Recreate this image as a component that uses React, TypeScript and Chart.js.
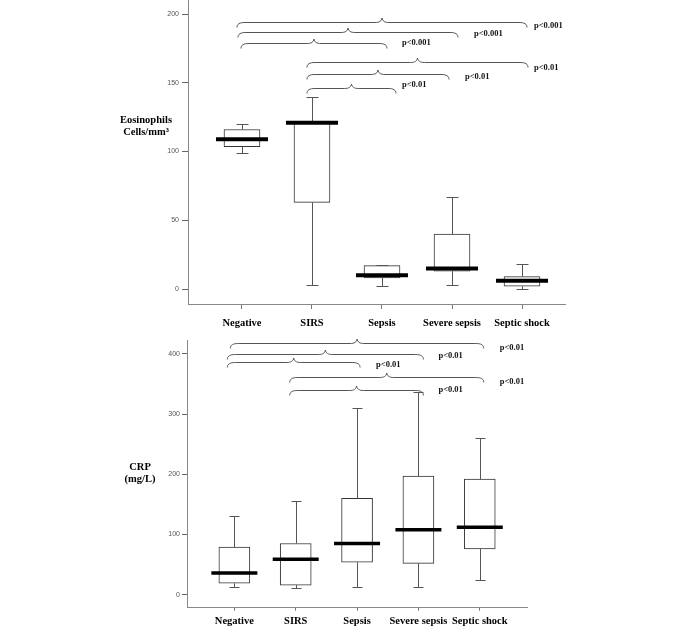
import React, { useEffect, useRef } from 'react';
import { Chart, registerables } from 'chart.js';

Chart.register(...registerables);

const categories = ['Negative', 'SIRS', 'Sepsis', 'Severe sepsis', 'Septic shock'];

// Eosinophils (cells/mm³)
const eosMin = [99, 3, 2, 3, 0];
const eosQ1 = [103.5, 63, 8, 13, 2];
const eosMedian = [109, 121, 10, 15, 6];
const eosQ3 = [116, 121, 17, 40, 9];
const eosMax = [120, 140, 17.5, 67, 18];
const eosTicks = [0, 50, 100, 150, 200];
const eosPairs = [[0, 4], [0, 3], [0, 2], [1, 4], [1, 3], [1, 2]];
const eosBraceLevel = [194.4, 186.7, 178.9, 165, 156.4, 146.2];
const eosPValues = ['p<0.001', 'p<0.001', 'p<0.001', 'p<0.01', 'p<0.01', 'p<0.01'];

// CRP (mg/L)
const crpMin = [12, 11, 12, 13, 24];
const crpQ1 = [19, 16, 54, 52, 76];
const crpMedian = [36, 59, 85, 108, 112];
const crpQ3 = [79, 85, 160, 197, 192];
const crpMax = [130, 155, 310, 336, 261];
const crpTicks = [0, 100, 200, 300, 400];
const crpPairs = [[0, 4], [0, 3], [0, 2], [1, 4], [1, 3]];
const crpBraceLevel = [417.6, 399.3, 386.5, 362, 340];
const crpPValues = ['p<0.01', 'p<0.01', 'p<0.01', 'p<0.01', 'p<0.01'];

type Panel = {
  lo: number[]; q1: number[]; med: number[]; q3: number[]; hi: number[];
  ticks: number[]; pairs: number[][]; levels: number[]; pvals: string[];
  title: string[];
  yMin: number; yMax: number; xMin: number; xMax: number;
  yWidth: number; xHeight: number; padRight: number;
  tickLenX: number; tickPadX: number; tickLenY: number; tickPadY: number;
  boxW: number; medW: number; medLW: number; capW: number;
  titleDx: number; titleDy: number[];
  braceL: number[]; braceR: number[]; labelDx: number[]; labelDy: number[];
  top: number; height: number;
};

const eosPanel: Panel = {
  lo: eosMin, q1: eosQ1, med: eosMedian, q3: eosQ3, hi: eosMax,
  ticks: eosTicks, pairs: eosPairs, levels: eosBraceLevel, pvals: eosPValues,
  title: ['Eosinophils', 'Cells/mm³'],
  yMin: -10.9, yMax: 210.2, xMin: -0.771, xMax: 4.614,
  yWidth: 188, xHeight: 26, padRight: 120,
  tickLenX: 5, tickPadX: 8, tickLenY: 6, tickPadY: 3,
  boxW: 36, medW: 52, medLW: 4, capW: 12,
  titleDx: 42, titleDy: [120, 132],
  braceL: [5, 4, 1, 5, 5, 5], braceR: [5, 6, 5, 6, -3, 14],
  labelDx: [7, 16, 15, 6, 16, 6], labelDy: [3, 1, -1, 5, 2, -4],
  top: -10, height: 340,
};

const crpPanel: Panel = {
  lo: crpMin, q1: crpQ1, med: crpMedian, q3: crpQ3, hi: crpMax,
  ticks: crpTicks, pairs: crpPairs, levels: crpBraceLevel, pvals: crpPValues,
  title: ['CRP', '(mg/L)'],
  yMin: -21.6, yMax: 423.1, xMin: -0.772, xMax: 4.77,
  yWidth: 187, xHeight: 21.3, padRight: 158,
  tickLenX: 3, tickPadX: 4, tickLenY: 5, tickPadY: 2,
  boxW: 31, medW: 46, medLW: 3.5, capW: 10,
  titleDx: 47, titleDy: [127, 139],
  braceL: [4, 7, 7, 6, 6], braceR: [4, 5, 3, 4, 5],
  labelDx: [16, 15, 16, 16, 15], labelDy: [4, 1, 2, 4, -1],
  top: 330, height: 299,
};

function drawBrace(ctx: CanvasRenderingContext2D, x0: number, x1: number, y: number) {
  const h = 5;
  const r = 8;
  const th = 4.5;
  const tw = 7;
  const xm = (x0 + x1) / 2;
  ctx.beginPath();
  ctx.moveTo(x0, y + h);
  ctx.bezierCurveTo(x0, y + 1.5, x0 + 2.5, y, x0 + r, y);
  ctx.lineTo(xm - tw, y);
  ctx.bezierCurveTo(xm - 2.5, y, xm - 0.5, y - 1.5, xm, y - th);
  ctx.bezierCurveTo(xm + 0.5, y - 1.5, xm + 2.5, y, xm + tw, y);
  ctx.lineTo(x1 - r, y);
  ctx.bezierCurveTo(x1 - 2.5, y, x1, y + 1.5, x1, y + h);
  ctx.stroke();
}

function BoxPanel({ p }: { p: Panel }) {
  const ref = useRef<HTMLCanvasElement | null>(null);
  useEffect(() => {
    if (!ref.current) return;
    const extras = {
      id: 'boxExtras',
      afterDatasetsDraw(chart: any) {
        const { ctx, chartArea } = chart;
        const xs = chart.scales.x;
        const ys = chart.scales.y;
        ctx.save();
        // whiskers
        ctx.strokeStyle = '#555';
        ctx.lineWidth = 1;
        categories.forEach((_, i) => {
          const cx = Math.round(xs.getPixelForValue(i)) + 0.5;
          const yHi = Math.round(ys.getPixelForValue(p.hi[i])) + 0.5;
          const yQ3 = ys.getPixelForValue(p.q3[i]);
          const yQ1 = ys.getPixelForValue(p.q1[i]);
          const yLo = Math.round(ys.getPixelForValue(p.lo[i])) + 0.5;
          ctx.beginPath();
          ctx.moveTo(cx, yHi);
          ctx.lineTo(cx, yQ3);
          ctx.moveTo(cx, yQ1);
          ctx.lineTo(cx, yLo);
          ctx.moveTo(cx - p.capW / 2, yHi);
          ctx.lineTo(cx + p.capW / 2, yHi);
          ctx.moveTo(cx - p.capW / 2, yLo);
          ctx.lineTo(cx + p.capW / 2, yLo);
          ctx.stroke();
        });
        // medians
        ctx.strokeStyle = '#000';
        ctx.lineWidth = p.medLW;
        categories.forEach((_, i) => {
          const cx = xs.getPixelForValue(i);
          const ym = ys.getPixelForValue(p.med[i]);
          ctx.beginPath();
          ctx.moveTo(cx - p.medW / 2, ym);
          ctx.lineTo(cx + p.medW / 2, ym);
          ctx.stroke();
        });
        // braces + p-values
        ctx.strokeStyle = '#555';
        ctx.lineWidth = 1;
        ctx.fillStyle = '#111';
        ctx.font = 'bold 8.5px "Liberation Serif"';
        ctx.textAlign = 'left';
        ctx.textBaseline = 'middle';
        p.pairs.forEach(([a, b], k) => {
          const x0 = xs.getPixelForValue(a) - p.braceL[k];
          const x1 = xs.getPixelForValue(b) + p.braceR[k];
          const yy = Math.round(ys.getPixelForValue(p.levels[k])) + 0.5;
          drawBrace(ctx, x0, x1, yy);
          ctx.fillText(p.pvals[k], x1 + p.labelDx[k], yy + p.labelDy[k]);
        });
        // axis title
        ctx.font = 'bold 10.5px "Liberation Serif"';
        ctx.textAlign = 'center';
        ctx.fillStyle = '#000';
        p.title.forEach((t, k) => {
          ctx.fillText(t, chartArea.left - p.titleDx, chartArea.top + p.titleDy[k]);
        });
        ctx.restore();
      },
    };
    const chart = new Chart(ref.current, {
      type: 'bar',
      data: {
        datasets: [
          {
            data: categories.map((_, i) => ({ x: i, y: [p.q1[i], p.q3[i]] })) as any,
            backgroundColor: '#ffffff',
            borderColor: '#333',
            borderWidth: 1,
            borderSkipped: false,
            barThickness: p.boxW,
          },
        ],
      },
      options: {
        responsive: false,
        animation: false,
        devicePixelRatio: 1,
        layout: { padding: { top: 10, left: 0, right: p.padRight, bottom: 0 } },
        plugins: { legend: { display: false }, tooltip: { enabled: false } },
        scales: {
          x: {
            type: 'linear',
            offset: false,
            min: p.xMin,
            max: p.xMax,
            afterBuildTicks: (s: any) => {
              s.ticks = categories.map((_, i) => ({ value: i }));
            },
            afterFit: (s: any) => {
              s.height = p.xHeight;
            },
            grid: { offset: false, drawOnChartArea: false, drawTicks: true, tickLength: p.tickLenX, color: '#777' },
            border: { display: true, color: '#888', width: 1 },
            ticks: {
              autoSkip: false,
              maxRotation: 0,
              padding: p.tickPadX,
              color: '#000',
              font: { family: '"Liberation Serif"', size: 10.5, weight: 'bold' },
              callback: (v: any) => categories[Math.round(Number(v))] ?? '',
            },
          },
          y: {
            type: 'linear',
            min: p.yMin,
            max: p.yMax,
            afterBuildTicks: (s: any) => {
              s.ticks = p.ticks.map((v) => ({ value: v }));
            },
            afterFit: (s: any) => {
              s.width = p.yWidth;
            },
            grid: { drawOnChartArea: false, drawTicks: true, tickLength: p.tickLenY, color: '#666' },
            border: { display: true, color: '#888', width: 1 },
            ticks: {
              padding: p.tickPadY,
              color: '#555',
              font: { family: '"Liberation Sans"', size: 7 },
            },
          },
        },
      },
      plugins: [extras],
    });
    return () => chart.destroy();
  }, [p]);
  return (
    <canvas
      ref={ref}
      width={685}
      height={p.height}
      style={{ position: 'absolute', left: 0, top: p.top, width: 685, height: p.height, display: 'block' }}
    />
  );
}

export default function App() {
  return (
    <div style={{ position: 'fixed', left: 0, top: 0, width: 685, height: 629, background: '#fff', overflow: 'hidden' }}>
      <BoxPanel p={eosPanel} />
      <BoxPanel p={crpPanel} />
    </div>
  );
}
